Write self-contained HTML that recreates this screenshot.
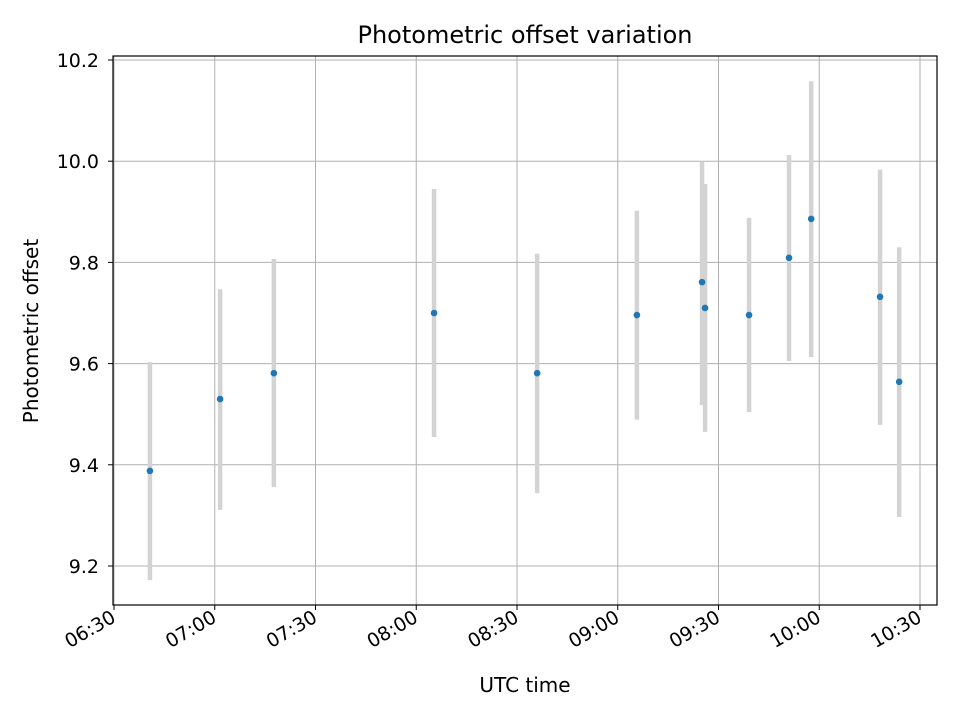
<!DOCTYPE html>
<html><head><meta charset="utf-8"><style>
body{margin:0;background:#fff;}
svg text{font-family:"DejaVu Sans","Liberation Sans",sans-serif;fill:#000;}
</style></head><body>
<svg id="chart" width="960" height="720" xmlns="http://www.w3.org/2000/svg">
<rect width="960" height="720" fill="#fff"/>
<text x="525" y="43" font-size="24" text-anchor="middle">Photometric offset variation</text>
<g id="grid"></g><g id="bars"></g><g id="pts"></g><g id="axes"></g>
<text x="525" y="692" font-size="20" text-anchor="middle">UTC time</text>
<text transform="translate(38,331) rotate(-90)" font-size="20" text-anchor="middle">Photometric offset</text>
</svg>
<script>
// minutes after 06:30
const times=[10.7,31.6,47.6,95.3,126,155.7,175.1,176,189.1,201,207.6,228.1,233.8];
const values=[9.388,9.530,9.581,9.700,9.581,9.696,9.761,9.710,9.696,9.809,9.886,9.732,9.564];
const lows=[9.172,9.311,9.356,9.455,9.344,9.489,9.518,9.465,9.504,9.605,9.613,9.479,9.297];
const highs=[9.603,9.747,9.807,9.945,9.817,9.902,10.0,9.955,9.888,10.012,10.158,9.983,9.830];
const xTicks=[0,30,60,90,120,150,180,210,240];
const xTickLabels=["06:30","07:00","07:30","08:00","08:30","09:00","09:30","10:00","10:30"];
const yTicks=[9.2,9.4,9.6,9.8,10.0,10.2];
const yTickLabels=["9.2","9.4","9.6","9.8","10.0","10.2"];
const L=113,R=937,T=56,B=605;
const xs=m=>114+m*(806/240);
const ys=v=>566-(v-9.2)*506;
const NS="http://www.w3.org/2000/svg";
function mk(tag,at,parent){const e=document.createElementNS(NS,tag);for(const k in at)e.setAttribute(k,at[k]);document.getElementById(parent).appendChild(e);return e;}
xTicks.forEach((t,i)=>{const x=xs(t);
 let g=mk('line',{x1:x,x2:x,y1:T,y2:B,stroke:'#b0b0b0','stroke-width':1},'grid');
 
 
 let k=mk('line',{x1:x,x2:x,y1:B,y2:B+5,stroke:'#000'},'axes');
 
 
 let tx=mk('text',{transform:`translate(${x+3},${B+16}) rotate(-30)`,'font-size':19,'text-anchor':'end'},'axes');
 tx.textContent=xTickLabels[i];
 
 
});
yTicks.forEach((t,i)=>{const y=ys(t);
 let g=mk('line',{x1:L,x2:R,y1:y,y2:y,stroke:'#b0b0b0','stroke-width':1},'grid');
 
 
 let k=mk('line',{x1:L-5,x2:L,y1:y,y2:y,stroke:'#000'},'axes');
 
 
 let tx=mk('text',{x:L-14,y:y+7,'font-size':19,'text-anchor':'end'},'axes');
 tx.textContent=yTickLabels[i];
 
 
});
let fr=mk('rect',{x:L,y:T,width:R-L,height:B-T,fill:'none',stroke:'#000','stroke-width':1.2},'axes');


times.forEach((t,i)=>{const x=xs(t);
 let b=mk('line',{x1:x,x2:x,y1:ys(highs[i]),y2:ys(lows[i]),stroke:'#d3d3d3','stroke-width':4.5},'bars');
 
 
 let p=mk('circle',{cx:x,cy:ys(values[i]),r:3.3,fill:'#1f77b4'},'pts');
 
 
});
</script>
</body></html>
